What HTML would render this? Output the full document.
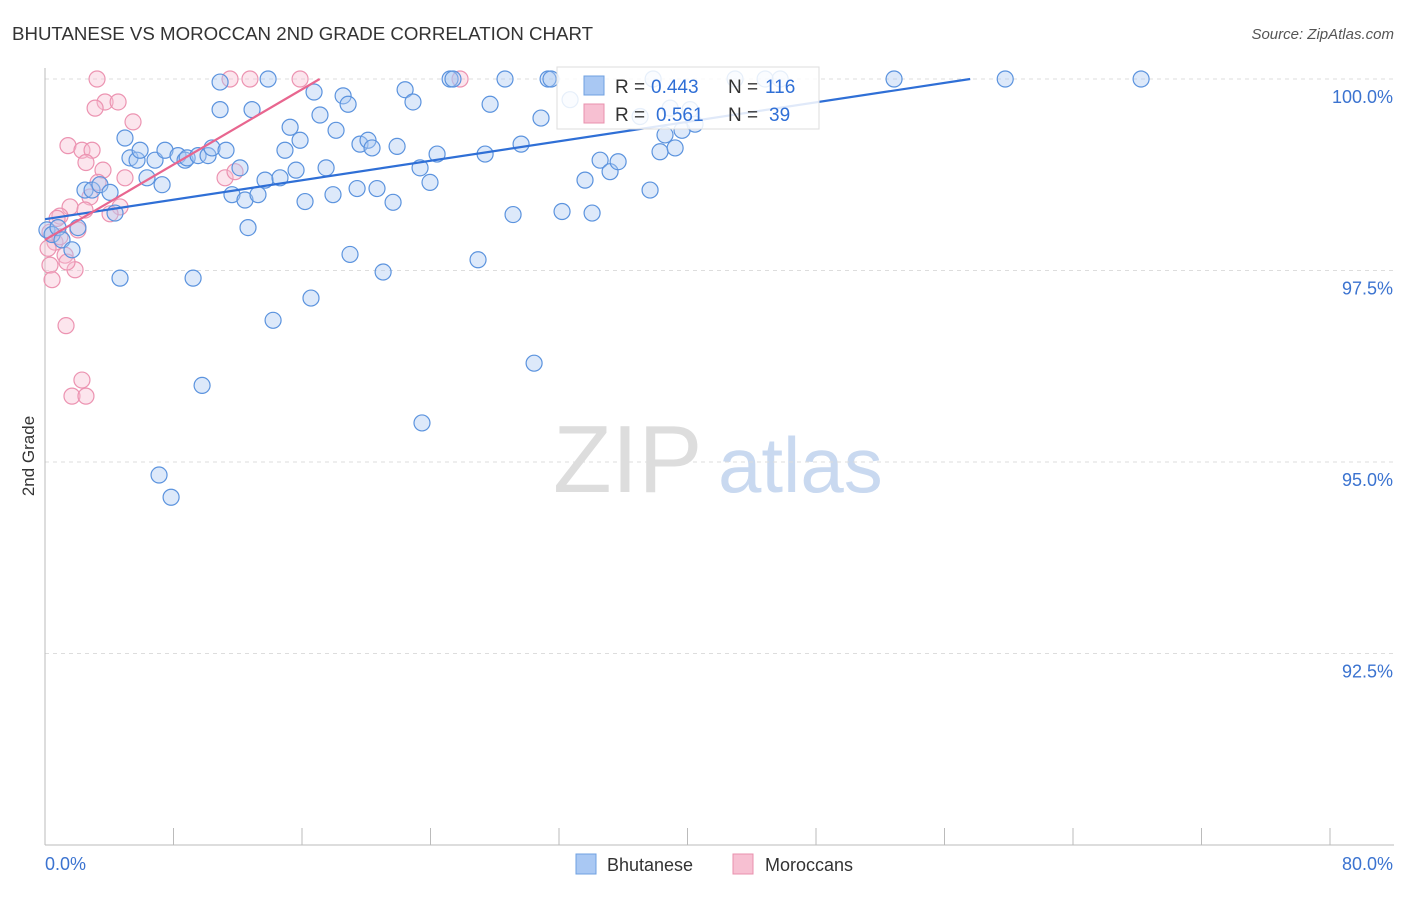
<!DOCTYPE html>
<html><head><meta charset="utf-8"><style>
body{margin:0;background:#fff;font-family:"Liberation Sans",sans-serif}
svg text{font-family:"Liberation Sans",sans-serif}
</style></head><body>
<svg id="chart" width="1406" height="892" xmlns="http://www.w3.org/2000/svg">
<text x="12" y="40" font-size="18" fill="#333" textLength="581" lengthAdjust="spacingAndGlyphs">BHUTANESE VS MOROCCAN 2ND GRADE CORRELATION CHART</text>
<text x="1394" y="39" font-size="15" fill="#555" text-anchor="end" font-style="italic">Source: ZipAtlas.com</text>
<text x="34" y="456" font-size="17" fill="#333" transform="rotate(-90 34 456)" text-anchor="middle">2nd Grade</text>
<g>
<text x="553" y="492" font-size="96" fill="#ddd" font-family="Liberation Serif,serif">ZIP</text>
<text x="718" y="492" font-size="78" fill="#c9d9f0">atlas</text>
</g>
<g id="grid"></g>
<g id="axes"></g>
<g id="pts"></g>
<g id="trend"></g>
<g>
<rect x="557" y="67" width="262" height="62" fill="#fff" fill-opacity="0.85" stroke="#ddd"/>
<rect x="584" y="76" width="20" height="19" fill="#a9c8f3" stroke="#6fa0e0"/>
<rect x="584" y="104" width="20" height="19" fill="#f7c0d2" stroke="#e890ad"/>
<text x="615" y="93" font-size="19" fill="#333">R =</text>
<text x="651" y="93" font-size="19" fill="#2f6fd6">0.443</text>
<text x="728" y="93" font-size="19" fill="#333">N =</text>
<text x="765" y="93" font-size="19" fill="#2f6fd6">116</text>
<text x="615" y="121" font-size="19" fill="#333">R =</text>
<text x="656" y="121" font-size="19" fill="#2f6fd6">0.561</text>
<text x="728" y="121" font-size="19" fill="#333">N =</text>
<text x="769" y="121" font-size="19" fill="#2f6fd6">39</text>
</g>
<g>
<rect x="576" y="854" width="20" height="20" fill="#a9c8f3" stroke="#6fa0e0"/>
<text x="607" y="871" font-size="18" fill="#333">Bhutanese</text>
<rect x="733" y="854" width="20" height="20" fill="#f7c0d2" stroke="#e890ad"/>
<text x="765" y="871" font-size="18" fill="#333">Moroccans</text>
</g>
</svg>
<script>
const blueX=[0.12,0.44,0.81,1.06,1.68,2.05,2.49,2.93,3.42,4.05,4.36,4.67,4.98,5.29,5.73,5.92,6.35,6.85,7.29,7.47,7.85,8.28,8.72,8.85,9.22,9.53,9.78,10.15,10.4,10.9,10.9,11.27,11.64,12.14,12.45,12.64,12.89,13.26,13.7,13.89,14.2,14.63,14.94,15.26,15.63,15.88,16.19,16.56,16.75,17.12,17.5,17.93,18.12,18.56,18.87,18.99,19.43,19.61,20.11,20.36,20.67,21.05,21.67,21.92,22.42,22.91,23.35,23.47,23.97,24.41,25.22,25.4,26.96,27.4,27.71,28.64,29.14,29.64,30.45,30.88,31.32,31.5,32.19,33.62,34.06,34.56,35.18,35.68,37.67,37.86,38.29,38.6,39.23,39.66,40.16,40.47,42.96,44.83,45.77,52.86,59.78,68.24,32.69,37.05,38.92,7.1];
const blueY=[98.03,97.97,98.06,97.9,97.77,98.06,98.55,98.55,98.62,98.52,98.25,97.4,99.23,98.97,98.94,99.07,98.71,98.94,98.62,99.07,94.54,99.0,98.94,98.97,97.4,99.0,96.0,99.0,99.1,99.96,99.6,99.07,98.49,98.84,98.42,98.06,99.6,98.49,98.68,100,96.85,98.71,99.07,99.37,98.81,99.2,98.4,97.14,99.83,99.53,98.84,98.49,99.33,99.78,99.67,97.71,98.57,99.15,99.2,99.1,98.57,97.48,98.39,99.12,99.86,99.7,98.84,95.51,98.65,99.02,100,100,97.64,99.02,99.67,100,98.23,99.15,96.29,99.49,100,100,98.27,98.68,98.25,98.94,98.79,98.92,98.55,100,99.05,99.27,99.1,99.33,99.6,99.41,100,100,100,100,100,100,99.73,99.51,99.62,94.83];
const pinkX=[3.24,11.52,12.76,15.88,25.84,3.74,4.55,3.12,5.48,1.43,2.3,2.93,2.55,3.61,4.98,3.3,2.8,4.67,4.05,1.56,0.93,2.05,0.31,0.62,0.19,1.25,0.31,1.87,0.44,1.31,2.3,1.68,2.55,11.21,11.83,0.93,0.75,2.49,1.37];
const pinkY=[100,100,100,100,100,99.7,99.7,99.62,99.44,99.13,99.07,99.07,98.91,98.81,98.71,98.65,98.46,98.33,98.24,98.33,98.21,98.03,98.0,97.87,97.79,97.7,97.57,97.51,97.38,96.78,96.07,95.86,95.86,98.71,98.79,97.94,98.18,98.29,97.61];
const yTicks=[100,97.5,95,92.5];
const yTickLabels=["100.0%","97.5%","95.0%","92.5%"];
const xTickVals=[0,8,16,24,32,40,48,56,64,72,80];
const xEndLabels=["0.0%","80.0%"];
const blueTrend=[[0,98.17],[57.6,100]];
const pinkTrend=[[0,97.9],[17.1,100]];
const X0=45,X1=1330,Y0=845,Y1=79;
const sx=v=>X0+(v-0)/80*(X1-X0);
const sy=v=>Y0-(v-90)/10*(Y0-Y1);
const NS="http://www.w3.org/2000/svg";
function mk(t,a,p){const e=document.createElementNS(NS,t);for(const k in a)e.setAttribute(k,a[k]);p.appendChild(e);return e;}
const grid=document.getElementById('grid'),axes=document.getElementById('axes'),pts=document.getElementById('pts'),trend=document.getElementById('trend');
yTicks.forEach((v,i)=>{
 const l=mk('line',{x1:X0,x2:1394,y1:sy(v),y2:sy(v),stroke:'#ddd','stroke-dasharray':'4,4'},grid);
 
 
 const t=mk('text',{x:1393,y:sy(v)+24,'font-size':18,fill:'#3b73d0','text-anchor':'end'},axes);
 t.textContent=yTickLabels[i];
 
 
});
const g0=mk('line',{x1:X0,x2:X0,y1:68,y2:Y0,stroke:'#bbb'},axes);


const ax=mk('line',{x1:X0,x2:1394,y1:Y0,y2:Y0,stroke:'#bbb'},axes);


xTickVals.forEach(v=>{
 const l=mk('line',{x1:sx(v),x2:sx(v),y1:828,y2:Y0,stroke:'#bbb'},axes);
 
 
});
const tl=mk('text',{x:45,y:870,'font-size':18,fill:'#3b73d0'},axes);tl.textContent=xEndLabels[0];


const tr=mk('text',{x:1393,y:870,'font-size':18,fill:'#3b73d0','text-anchor':'end'},axes);tr.textContent=xEndLabels[1];


pinkX.forEach((x,i)=>{
 const c=mk('circle',{cx:sx(x),cy:sy(pinkY[i]),r:8,fill:'#f7bfd1','fill-opacity':0.4,stroke:'#ec93b1','stroke-width':1.2},pts);
 
 
});
blueX.forEach((x,i)=>{
 const c=mk('circle',{cx:sx(x),cy:sy(blueY[i]),r:8,fill:'#a9c8f3','fill-opacity':0.4,stroke:'#5b93de','stroke-width':1.2},pts);
 
 
});
const bl=mk('line',{x1:sx(blueTrend[0][0]),y1:sy(blueTrend[0][1]),x2:sx(blueTrend[1][0]),y2:sy(blueTrend[1][1]),stroke:'#2f6fd6','stroke-width':2.2},trend);


const pl=mk('line',{x1:sx(pinkTrend[0][0]),y1:sy(pinkTrend[0][1]),x2:sx(pinkTrend[1][0]),y2:sy(pinkTrend[1][1]),stroke:'#e8668f','stroke-width':2.2},trend);


</script>
</body></html>
